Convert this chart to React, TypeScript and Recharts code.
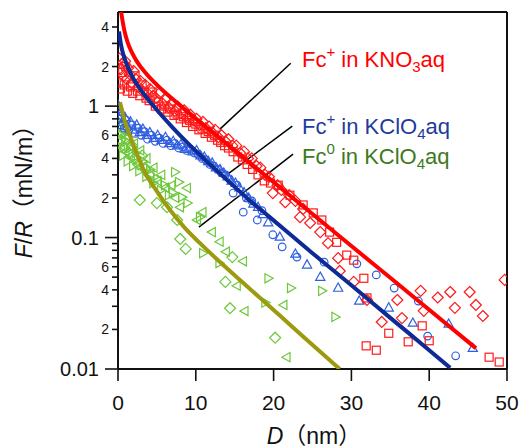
import { ComposedChart, Line, ReferenceLine, Scatter, XAxis, YAxis } from "recharts";

// fitted curves as [D (nm), F/R (mN/m)]
const redFit = [
  [0.4, 5.2], [0.8, 3.8], [1.2, 3.1], [1.8, 2.55], [2.4, 2.2], [3.5, 1.8], [5, 1.45], [7.5, 1.07],
  [10, 0.805], [14, 0.515], [17, 0.368], [20, 0.264], [25, 0.151], [30, 0.0863], [35, 0.0494],
  [40, 0.0282], [46, 0.0144],
];
const blueFit = [
  [0.13, 3.7], [0.4, 2.9], [0.8, 2.35], [1.8, 1.7], [3.4, 1.22], [5, 0.935], [7, 0.69], [9, 0.52],
  [11, 0.4], [14, 0.275], [17, 0.19], [19.5, 0.143], [25, 0.076], [30, 0.0434], [35, 0.0245],
  [40, 0.0139], [42.7, 0.0102],
];
const oliveFit = [
  [0.26, 1.07], [0.8, 0.8], [1.8, 0.54], [3.5, 0.31], [5, 0.225], [6.6, 0.165], [8.5, 0.12],
  [10.5, 0.091], [13, 0.066], [16, 0.0457], [20.8, 0.0255], [24, 0.0172], [28.5, 0.01],
];

// Fc+ in KNO3aq
const redDiamonds = [
  [0.2, 2.3], [0.4, 1.9], [0.5, 2.1], [0.7, 1.7], [0.9, 2.2], [1.1, 1.6], [1.3, 1.95], [1.5, 1.75],
  [1.8, 1.5], [2.0, 1.85], [2.3, 1.6], [2.6, 1.4], [2.9, 1.55], [3.2, 1.3], [3.5, 1.45], [3.8, 1.25],
  [4.1, 1.35], [4.5, 1.2], [4.9, 1.15], [5.3, 1.25], [5.7, 1.05], [6.1, 1.12], [6.5, 0.98], [6.9, 1.05],
  [7.3, 0.92], [7.7, 0.99], [8.1, 0.88], [8.5, 0.93], [8.9, 0.82], [9.3, 0.86], [9.7, 0.78], [10.1, 0.8],
  [10.5, 0.72], [10.9, 0.76], [11.3, 0.68], [11.7, 0.7], [12.1, 0.63], [12.5, 0.66], [12.9, 0.58],
  [13.3, 0.6], [13.8, 0.54], [14.2, 0.56], [14.7, 0.5], [15.2, 0.5], [15.7, 0.44], [16.2, 0.45],
  [16.7, 0.4], [17.2, 0.4], [17.8, 0.35], [18.3, 0.34], [18.9, 0.3], [19.4, 0.29], [19.9, 0.218],
  [20.5, 0.25], [21, 0.23], [21.5, 0.186], [22, 0.21], [22.8, 0.19], [23.4, 0.143], [23.8, 0.165],
  [24.7, 0.129], [26.0, 0.11], [27.0, 0.0906], [28.3, 0.0697], [28.5, 0.0557], [30.3, 0.046],
  [32.0, 0.0335], [33.9, 0.0228], [35.9, 0.0335], [36.5, 0.0244], [38.9, 0.0393], [39.3, 0.0277],
  [41.1, 0.035], [42.7, 0.0385], [43.3, 0.0292], [45.2, 0.0385], [46.0, 0.0307], [46.9, 0.0253],
  [49.7, 0.0476],
];
const redSquares = [
  [0.1, 1.5], [0.3, 1.35], [0.6, 1.8], [0.8, 1.45], [1.0, 2.0], [1.2, 1.3], [1.6, 1.4], [1.9, 1.25],
  [2.2, 1.7], [2.5, 1.3], [2.8, 1.2], [3.1, 1.45], [3.6, 1.15], [4.0, 1.1], [4.4, 1.28], [4.8, 1.0],
  [5.2, 1.08], [5.6, 0.95], [6.0, 1.0], [6.4, 0.9], [6.8, 0.95], [7.2, 0.85], [7.6, 0.87], [8.0, 0.8],
  [8.4, 0.83], [8.8, 0.75], [9.2, 0.78], [9.6, 0.7], [10.0, 0.73], [10.4, 0.66], [10.8, 0.67],
  [11.2, 0.62], [11.6, 0.64], [12.0, 0.58], [12.4, 0.6], [12.8, 0.55], [13.2, 0.53], [13.7, 0.5],
  [14.2, 0.48], [14.8, 0.45], [15.4, 0.41], [16.0, 0.39], [16.6, 0.36], [17.3, 0.33], [18.0, 0.3],
  [18.8, 0.27], [19.6, 0.26], [20.6, 0.25], [22.1, 0.21], [23.8, 0.177], [25.1, 0.154], [26.2, 0.136],
  [27.2, 0.11], [28.1, 0.092], [29.4, 0.0735], [30.3, 0.0673], [31.6, 0.049], [32.0, 0.0347],
  [31.9, 0.015], [33.2, 0.0139], [34.8, 0.0187], [37.3, 0.0161], [39.1, 0.0213], [40.0, 0.0164],
  [47.7, 0.0123], [49.0, 0.0113],
];

// Fc+ in KClO4aq
const blueCircles = [
  [0.1, 0.95], [0.3, 0.72], [0.5, 0.85], [0.8, 0.68], [1.1, 0.78], [1.4, 0.66], [1.8, 0.72], [2.2, 0.62],
  [2.6, 0.68], [3.0, 0.6], [3.4, 0.64], [3.8, 0.56], [4.3, 0.6], [4.8, 0.54], [5.3, 0.57], [5.8, 0.52],
  [6.3, 0.55], [6.8, 0.5], [7.3, 0.52], [7.8, 0.48], [8.3, 0.49], [8.8, 0.46], [9.3, 0.47], [9.8, 0.44],
  [10.3, 0.43], [10.8, 0.4], [11.3, 0.39], [11.8, 0.36], [12.3, 0.35], [12.8, 0.33], [13.3, 0.31],
  [13.8, 0.3], [14.3, 0.28], [14.8, 0.218], [15.3, 0.25], [16.1, 0.156], [16.5, 0.2], [17.2, 0.19],
  [17.9, 0.136], [18.5, 0.16], [19.9, 0.105], [21.1, 0.085], [23.0, 0.071], [26.5, 0.065],
  [30.7, 0.0631], [33.2, 0.052], [35.5, 0.0413], [38.6, 0.0329], [39.8, 0.0178], [43.4, 0.0126],
];
const blueTriangles = [
  [0.0, 1.02], [0.2, 0.8], [0.4, 0.9], [0.6, 0.75], [0.9, 0.82], [1.2, 0.7], [1.6, 0.76], [2.0, 0.66],
  [2.4, 0.72], [2.8, 0.63], [3.2, 0.67], [3.7, 0.6], [4.1, 0.63], [4.6, 0.57], [5.1, 0.6], [5.6, 0.55],
  [6.1, 0.58], [6.6, 0.52], [7.1, 0.54], [7.6, 0.5], [8.1, 0.51], [8.6, 0.47], [9.1, 0.48], [9.6, 0.45],
  [10.1, 0.46], [10.6, 0.42], [11.1, 0.41], [11.6, 0.38], [12.1, 0.37], [12.6, 0.34], [13.1, 0.33],
  [13.6, 0.31], [14.1, 0.29], [14.6, 0.27], [15.1, 0.26], [15.6, 0.24], [16.2, 0.22], [16.8, 0.2],
  [17.4, 0.18], [18.0, 0.17], [18.6, 0.15], [19.3, 0.13], [20.8, 0.101], [22.8, 0.075], [24.3, 0.062],
  [26.0, 0.05], [28.3, 0.0413], [31.0, 0.0329], [34.8, 0.0292], [37.9, 0.0224], [42.5, 0.022],
  [45.6, 0.0144],
];

// Fc0 in KClO4aq
const greenDiamonds = [
  [0.1, 0.7], [0.3, 0.55], [0.5, 0.62], [0.8, 0.48], [1.1, 0.56], [1.4, 0.44], [1.8, 0.5], [2.2, 0.4],
  [2.6, 0.36], [2.8, 0.193], [3.1, 0.42], [3.5, 0.33], [4.0, 0.3], [5.0, 0.183], [6.3, 0.17],
  [7.6, 0.136], [8.0, 0.0975], [8.7, 0.082], [13.8, 0.046], [14.4, 0.029], [14.7, 0.071], [20.2, 0.0173],
];
const greenLeft = [
  [0.0, 0.6], [0.2, 0.75], [0.4, 0.5], [0.7, 0.65], [1.0, 0.45], [1.3, 0.58], [1.7, 0.42], [2.1, 0.52],
  [2.5, 0.38], [2.9, 0.46], [3.3, 0.35], [3.7, 0.4], [4.2, 0.3], [4.6, 0.34], [5.1, 0.27], [5.6, 0.3],
  [6.1, 0.24], [6.9, 0.25], [7.4, 0.2], [8.0, 0.17], [8.9, 0.238], [10.2, 0.136], [10.9, 0.156],
  [12.1, 0.11], [13.1, 0.093], [13.9, 0.078], [15.3, 0.043], [16.1, 0.066], [16.3, 0.0276],
  [21.3, 0.0307], [21.7, 0.0123],
];
const greenRight = [
  [0.1, 0.5], [0.3, 0.62], [0.6, 0.42], [0.9, 0.55], [1.2, 0.38], [1.5, 0.48], [1.9, 0.35], [2.3, 0.44],
  [2.7, 0.32], [3.2, 0.38], [3.6, 0.29], [4.1, 0.33], [4.5, 0.26], [5.0, 0.28], [5.5, 0.23], [6.0, 0.25],
  [6.5, 0.21], [7.0, 0.22], [7.3, 0.315], [7.8, 0.264], [8.2, 0.203], [8.9, 0.183], [10.5, 0.143],
  [10.9, 0.076], [13.0, 0.064], [18.9, 0.032], [19.3, 0.049], [22.2, 0.0413], [26.2, 0.0393],
  [27.9, 0.0249],
];

const xTicks = [0, 10, 20, 30, 40, 50];
const yTicks = [
  0.01, 0.02, 0.03, 0.04, 0.05, 0.06, 0.07, 0.08, 0.09,
  0.1, 0.2, 0.3, 0.4, 0.5, 0.6, 0.7, 0.8, 0.9,
  1, 2, 3, 4,
];
const yMajor: Record<string, string> = { "0.01": "0.01", "0.1": "0.1", "1": "1" };
const yMinorLabels: Record<string, string> = {
  "0.02": "2", "0.04": "4", "0.06": "6", "0.2": "2", "0.4": "4", "0.6": "6", "2": "2", "4": "4",
};

const FONT = "'Liberation Sans', Arial, 'Noto Sans CJK JP', sans-serif";
const RED = "#ff1a1a";
const BLUE = "#2f5ee0";
const GREEN = "#6cc83a";

const toPts = (a: number[][]) => a.map(([x, y]) => ({ x, y }));

function marker(kind: string, color: string) {
  return (p: any) => {
    const { cx, cy } = p;
    if (cx == null || cy == null) return <g />;
    const common = { fill: "none", stroke: color, strokeWidth: 1.2 };
    if (kind === "circle") return <circle cx={cx} cy={cy} r={3.8} {...common} />;
    if (kind === "square") return <rect x={cx - 4} y={cy - 4} width={8} height={8} {...common} />;
    let d = "";
    if (kind === "diamond") d = `M${cx},${cy - 5.5}L${cx + 5.5},${cy}L${cx},${cy + 5.5}L${cx - 5.5},${cy}Z`;
    if (kind === "up") d = `M${cx},${cy - 5}L${cx + 4.6},${cy + 3.2}L${cx - 4.6},${cy + 3.2}Z`;
    if (kind === "left") d = `M${cx - 5},${cy}L${cx + 3.2},${cy - 4.6}L${cx + 3.2},${cy + 4.6}Z`;
    if (kind === "right") d = `M${cx + 5},${cy}L${cx - 3.2},${cy - 4.6}L${cx - 3.2},${cy + 4.6}Z`;
    return <path d={d} {...common} />;
  };
}

function YTick(p: any) {
  const { x, y, payload } = p;
  const key = String(payload.value);
  const major = yMajor[key];
  const minor = yMinorLabels[key];
  const len = major ? 13 : 6;
  return (
    <g>
      <line x1={x - len} x2={x} y1={y} y2={y} stroke="#111" strokeWidth={1.6} />
      {major && (
        <text x={x - 19} y={y} dy="0.36em" textAnchor="end" fontSize={20} fill="#111" fontFamily={FONT}>
          {major}
        </text>
      )}
      {minor && (
        <text x={x - 9} y={y} dy="0.36em" textAnchor="end" fontSize={14} fill="#111" fontFamily={FONT}>
          {minor}
        </text>
      )}
    </g>
  );
}

function XTick(p: any) {
  const { x, y, payload } = p;
  return (
    <g>
      <line x1={x} x2={x} y1={y} y2={y + 12} stroke="#111" strokeWidth={1.6} />
      <text x={x} y={y + 41} textAnchor="middle" fontSize={21} fill="#111" fontFamily={FONT}>
        {payload.value}
      </text>
    </g>
  );
}

export default function App() {
  return (
    <div style={{ position: "absolute", left: 0, top: 0, background: "#fff" }}>
      <ComposedChart width={523} height={448} margin={{ top: 12, right: 16, bottom: 0, left: 0 }}>
        <XAxis
          type="number"
          dataKey="x"
          domain={[0, 50]}
          ticks={xTicks}
          tick={<XTick />}
          tickLine={false}
          tickSize={0}
          tickMargin={0}
          height={79}
          axisLine={{ stroke: "#111", strokeWidth: 2 }}
          allowDataOverflow
        />
        <YAxis
          type="number"
          dataKey="y"
          scale="log"
          domain={[0.01, 5.2]}
          ticks={yTicks}
          tick={<YTick />}
          tickLine={false}
          tickSize={0}
          tickMargin={0}
          width={118}
          interval={0}
          axisLine={{ stroke: "#111", strokeWidth: 2 }}
          allowDataOverflow
        />
        <ReferenceLine y={5.2} stroke="#111" strokeWidth={2} />
        <ReferenceLine x={50} stroke="#111" strokeWidth={2} />

        <Scatter data={toPts(greenDiamonds)} dataKey="y" shape={marker("diamond", GREEN)} isAnimationActive={false} />
        <Scatter data={toPts(greenLeft)} dataKey="y" shape={marker("left", GREEN)} isAnimationActive={false} />
        <Scatter data={toPts(greenRight)} dataKey="y" shape={marker("right", GREEN)} isAnimationActive={false} />
        <Scatter data={toPts(blueCircles)} dataKey="y" shape={marker("circle", BLUE)} isAnimationActive={false} />
        <Scatter data={toPts(blueTriangles)} dataKey="y" shape={marker("up", BLUE)} isAnimationActive={false} />
        <Scatter data={toPts(redSquares)} dataKey="y" shape={marker("square", RED)} isAnimationActive={false} />
        <Scatter data={toPts(redDiamonds)} dataKey="y" shape={marker("diamond", RED)} isAnimationActive={false} />

        <Line data={toPts(oliveFit)} dataKey="y" type="monotone" stroke="#9c9a0e" strokeWidth={4} dot={false} isAnimationActive={false} zIndex={700} />
        <Line data={toPts(blueFit)} dataKey="y" type="monotone" stroke="#0d2a96" strokeWidth={4} dot={false} isAnimationActive={false} zIndex={700} />
        <Line data={toPts(redFit)} dataKey="y" type="monotone" stroke="#ff0000" strokeWidth={4} dot={false} isAnimationActive={false} zIndex={700} />

        <ReferenceLine segment={[{ x: 22.2, y: 2.12 }, { x: 13.1, y: 0.668 }]} stroke="#000" strokeWidth={1.5} />
        <ReferenceLine segment={[{ x: 22.4, y: 0.704 }, { x: 14.1, y: 0.304 }]} stroke="#000" strokeWidth={1.5} />
        <ReferenceLine segment={[{ x: 22.5, y: 0.431 }, { x: 10.4, y: 0.12 }]} stroke="#000" strokeWidth={1.5} />

        <text x={302} y={67} fontSize={22} fill="#ff0000" fontFamily={FONT}>
          Fc<tspan fontSize={15} dy={-10}>+</tspan>
          <tspan dy={10}> in KNO</tspan>
          <tspan fontSize={15} dy={5}>3</tspan>
          <tspan dy={-5}>aq</tspan>
        </text>
        <text x={302} y={134} fontSize={22} fill="#1f3a9e" fontFamily={FONT}>
          Fc<tspan fontSize={15} dy={-10}>+</tspan>
          <tspan dy={10}> in KClO</tspan>
          <tspan fontSize={15} dy={5}>4</tspan>
          <tspan dy={-5}>aq</tspan>
        </text>
        <text x={302} y={164} fontSize={22} fill="#3d7a1c" fontFamily={FONT}>
          Fc<tspan fontSize={15} dy={-10}>0</tspan>
          <tspan dy={10}> in KClO</tspan>
          <tspan fontSize={15} dy={5}>4</tspan>
          <tspan dy={-5}>aq</tspan>
        </text>

        <text transform="rotate(-90)" x={-186} y={32} textAnchor="middle" fontSize={23} fill="#111" fontFamily={FONT}>
          <tspan fontStyle="italic">F</tspan>/<tspan fontStyle="italic">R</tspan>（mN/m）
        </text>
        <text x={314} y={444} textAnchor="middle" fontSize={23} fill="#111" fontFamily={FONT}>
          <tspan fontStyle="italic">D</tspan>（nm）
        </text>
      </ComposedChart>
    </div>
  );
}
